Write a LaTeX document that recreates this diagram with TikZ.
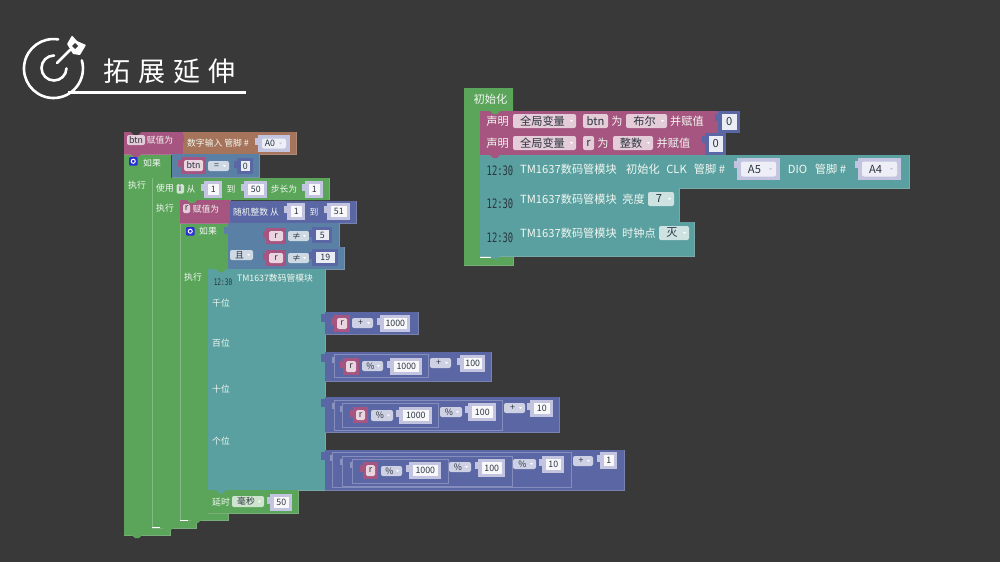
\documentclass[tikz,border=0pt]{standalone}
\usepackage{fontspec}
\setmainfont{Noto Sans CJK SC}
\newfontfamily\titlefont[LetterSpace=30]{Noto Sans CJK SC}
\newfontfamily\clockfont{DejaVu Sans Mono}
\definecolor{cbg}{HTML}{393939}
\definecolor{cgreen}{HTML}{5BA55B}
\definecolor{cpink}{HTML}{A5557F}
\definecolor{cteal}{HTML}{5BA0A0}
\definecolor{csteel}{HTML}{5B80A5}
\definecolor{cindigo}{HTML}{5B67A5}
\definecolor{corange}{HTML}{A5745B}
\definecolor{clil}{HTML}{C3C5E0}
\definecolor{cdark}{HTML}{2A3540}
\newcounter{nid}
\def\fs{\fontsize{8.8}{9}\selectfont}
\newcommand{\blk}[5]{\fill[#1] (#2,#3) rectangle (#4,#5);
  \draw[#1!70!lightgray,line width=.8pt] (#4,#3)--(#4,#5)--(#2,#5);}
\newcommand{\lbl}[3]{\stepcounter{nid}\node[txt,text=white!92!cgreen] (n\arabic{nid}) at (#1,#2) {\fs #3};}
\newcommand{\dlbl}[3]{\stepcounter{nid}\node[txt,text=cdark] (n\arabic{nid}) at (#1,#2) {\fs #3};}
\newcommand{\clock}[3]{\stepcounter{nid}\node[txt,text=cdark] (n\arabic{nid}) at (#1,#2) {\scalebox{.68}[1]{\fontsize{#3}{#3}\selectfont\clockfont 12:30}};}
% field: colour x1 y1 x2 y2 text (drop-down with arrow)
\newcommand{\fld}[6]{\fill[#1!30!white,rounded corners=2pt] (#2,#3) rectangle (#4,#5);
  \fill[white] ({#4-6},{(#3+#5)/2-1}) -- ({#4-3},{(#3+#5)/2-1}) -- ({#4-4.5},{(#3+#5)/2+1}) -- cycle;
  \dlbl{{(#2+#4)/2-2}}{{(#3+#5)/2}}{#6}}
% value block with left tab
\newcommand{\val}[6]{\fill[#1] ({#2-3},{#3+3}) rectangle (#2,{#3+10});
  \fill[#1] (#2,#3) rectangle (#4,#5);
  \fill[#1!12!white] ({#2+3.5},{#3+3}) rectangle ({#4-3},{#5-3});
  \dlbl{{(#2+#4)/2+.3}}{{(#3+#5)/2}}{#6}}
% pin selector with left tab and drop-down arrow
\newcommand{\pin}[5]{\fill[clil] ({#1-3},{#2+3}) rectangle (#1,{#2+10});
  \fill[clil] (#1,#2) rectangle (#3,#4);
  \fill[clil!30!white,rounded corners=2pt] ({#1+4},{#2+3.5}) rectangle ({#3-4},{#4-3.5});
  \fill[clil] ({#3-11},{(#2+#4)/2-1}) -- ({#3-8},{(#2+#4)/2-1}) -- ({#3-9.5},{(#2+#4)/2+1}) -- cycle;
  \dlbl{{(#1+#3)/2-4}}{{(#2+#4)/2}}{#5}}
\newcommand{\get}[6]{\fill[#1] ({#2-3},{#3+3}) rectangle (#2,{#3+10});
  \fill[#1] (#2,#3) rectangle (#4,#5);
  \fill[#1!25!white,rounded corners=1.5pt] ({#2+3},{#3+3}) rectangle ({#4-3},{#5-3});
  \dlbl{{(#2+#4)/2}}{{(#3+#5)/2}}{#6}}
\newcommand{\frm}[4]{\draw[cindigo!75!white,line width=.7pt] (#1,#2) rectangle (#3,#4);
  \fill[cindigo!70!white] ({#1-2},{#2+3}) rectangle (#1,{#2+9});}
\newcommand{\notch}[3]{\fill[#1] (#2,#3) -- ({#2+3},{#3+3}) -- ({#2+7},{#3+3}) -- ({#2+10},#3) -- cycle;}
\newcommand{\gear}[2]{\fill[blue!55!cindigo,rounded corners=1pt] (#1,#2) rectangle ({#1+8.5},{#2+8.5});
  \draw[white,line width=1pt] ({#1+4.25},{#2+4.25}) circle (2pt);}
\tikzset{txt/.style={inner sep=0pt,outer sep=0pt,anchor=center}}
\begin{document}
\begin{tikzpicture}[x=1pt,y=-1pt]
\useasboundingbox (0,0) rectangle (1000,562);
\fill[cbg] (0,0) rectangle (1000,562);
% ---- header
\draw[white,line width=2.6pt,line cap=round] (58.1,39.4) arc[start angle=-81,end angle=-376,radius=29.5];
\draw[white,line width=2.6pt,line cap=round] (54,55.5) arc[start angle=-90,end angle=-358,radius=12.5];
\draw[white,line width=2.6pt,line cap=round] (57,63) -- (70,50);
\fill[white,rounded corners=.5pt] (67,44) -- (72,35.5) -- (77,41) -- (86,45) -- (80,55) -- (73,54) -- cycle;
\fill[cbg] (72,46) -- (75,43) -- (78,46) -- (75,49) -- cycle;
\draw[white,line width=2.6pt] (68,92.5) -- (246,92.5);
\node[txt,anchor=west,text=white] (title) at (103,71) {\fontsize{27}{27}\selectfont\titlefont 拓展延伸};
% ---- left stack: C-shaped green blocks
\fill[cgreen] (124,154) -- (171,154) -- (171,178) -- (152,178) -- (152,527) -- (170,527) -- (170,535) -- (124,535) -- cycle;
\draw[cgreen!70!lightgray,line width=.8pt] (170,527) -- (170,535) -- (124,535);
\fill[cgreen] (152,178) -- (329,178) -- (329,200) -- (180,200) -- (180,520) -- (196,520) -- (196,528) -- (152,528) -- cycle;
\draw[cgreen!70!lightgray,line width=.8pt] (329,178) -- (329,200);
\draw[cgreen!70!lightgray,line width=.8pt] (196,520) -- (196,528) -- (152,528);
\fill[cgreen] (180,223) -- (228,223) -- (228,513) -- (228,520) -- (180,520) -- cycle;
\draw[cgreen!70!lightgray,line width=.8pt] (228,513) -- (228,520) -- (180,520);
\draw[white!25!cgreen,line width=.7pt] (152,178) -- (152,527);
\draw[white!25!cgreen,line width=.7pt] (180,223) -- (180,520);
\draw[white,line width=1pt] (152,527) -- (160,527);
\draw[white,line width=1pt] (180,520) -- (188,520);
\draw[white,line width=1pt] (208,513) -- (218,513);
\notch{cgreen}{132}{535}
\notch{cgreen}{163}{528}
\notch{cgreen}{191}{520}
\notch{cgreen}{216}{513}
% first row
\blk{cpink}{124}{132}{183}{154}
\blk{corange}{183}{132}{296}{154}
\notch{cbg}{131}{132}
\fill[cpink] (180,135) rectangle (184,142);
\fill[cpink!30!white,rounded corners=2pt] (127,135) rectangle (145,145);
\dlbl{136}{140}{btn}
\lbl{160}{140.5}{赋值为}
\lbl{218}{143}{数字输入 管脚 \#}
\pin{258}{135}{290}{152}{A0}
\notch{cpink}{131}{154}
% 如果 row
\gear{129}{157}
\lbl{152}{163}{如果}
\blk{csteel}{172}{154}{259}{177}
\get{cpink}{181}{157}{206}{174}{btn}
\fld{csteel}{208}{161}{229}{171}{=}
\val{cindigo}{237}{158}{253}{174}{0}
\lbl{137}{185}{执行}
% 使用 row
\lbl{165}{188}{使用}
\fill[cgreen!30!white,rounded corners=1.5pt] (176.5,184) rectangle (184,193.5);
\dlbl{180}{188.5}{i}
\lbl{191}{189}{从}
\val{clil}{204}{181}{222}{198}{1}
\lbl{231}{189}{到}
\val{clil}{244}{181}{267}{198}{50}
\lbl{284}{189}{步长为}
\val{clil}{305}{181}{323}{198}{1}
\notch{cgreen}{157}{178}
\lbl{165}{208}{执行}
% r = random
\blk{cpink}{180}{200}{230}{223}
\blk{cindigo}{230}{201}{356}{223}
\fill[cpink!30!white,rounded corners=1.5pt] (183,204) rectangle (190,213);
\dlbl{186.5}{208.5}{r}
\lbl{206}{209}{赋值为}
\lbl{256}{212}{随机整数 从}
\val{clil}{287}{203}{305}{220}{1}
\lbl{314}{212}{到}
\val{clil}{327}{203}{350}{220}{51}
\notch{cgreen}{187}{200}
% 如果 and
\gear{186}{227}
\lbl{208}{231}{如果}
\blk{csteel}{228}{223}{262}{269}
\blk{csteel}{262}{223}{339}{247}
\blk{csteel}{262}{247}{344}{269}
\fill[csteel] (224,227) rectangle (229,234);
\fld{csteel}{230}{250}{253}{260}{且}
\get{cpink}{266}{228}{286}{244}{r}
\fld{csteel}{288}{231}{309}{241}{≠}
\val{cindigo}{312}{227}{332}{243}{5}
\get{cpink}{266}{250}{286}{266}{r}
\fld{csteel}{288}{253}{309}{263}{≠}
\val{cindigo}{312}{249}{338}{266}{19}
\lbl{193}{277}{执行}
% TM block
\blk{cteal}{208}{269}{325}{490}
\notch{cgreen}{216}{269}
\clock{223}{282}{9}
\lbl{275}{278}{TM1637数码管模块}
\lbl{221}{303}{千位}
\lbl{221}{343}{百位}
\lbl{221}{389}{十位}
\lbl{221}{441}{个位}
\blk{cgreen}{208}{490}{298}{513}
\notch{cteal}{216}{490}
\lbl{221}{502}{延时}
\fld{cgreen}{232}{496}{264}{507}{毫秒}
\val{clil}{270}{494}{292}{511}{50}
% value 1
\fill[cindigo] (321,314) rectangle (326,322);
\blk{cindigo}{325}{312}{418}{334}
\get{cpink}{334}{315}{350}{332}{r}
\fld{cindigo}{352}{318}{373}{328}{+}
\val{clil}{380}{315}{410}{332}{1000}
% value 2
\fill[cindigo] (321,354) rectangle (326,362);
\blk{cindigo}{325}{352}{491}{381}
\frm{334}{354}{428}{377}
\get{cpink}{343}{358}{359}{375}{r}
\fld{cindigo}{362}{361}{383}{371}{\%}
\val{clil}{390}{358}{422}{375}{1000}
\fld{cindigo}{430}{358}{451}{368}{+}
\val{clil}{460}{355}{485}{372}{100}
% value 3
\fill[cindigo] (321,399) rectangle (326,407);
\blk{cindigo}{325}{397}{559}{432}
\frm{334}{400}{502}{430}
\frm{342}{403}{438}{427}
\get{cpink}{353}{407}{368}{423}{r}
\fld{cindigo}{371}{410}{393}{421}{\%}
\val{clil}{399}{407}{432}{424}{1000}
\fld{cindigo}{440}{407}{462}{417}{\%}
\val{clil}{468}{403}{496}{421}{100}
\fld{cindigo}{504}{403}{525}{413}{+}
\val{clil}{530}{400}{553}{417}{10}
% value 4
\fill[cindigo] (321,452) rectangle (326,460);
\blk{cindigo}{325}{450}{624}{490}
\frm{332}{452}{571}{487}
\frm{342}{456}{512}{486}
\frm{352}{459}{448}{483}
\get{cpink}{363}{462}{378}{479}{r}
\fld{cindigo}{381}{466}{402}{476}{\%}
\val{clil}{409}{462}{441}{479}{1000}
\fld{cindigo}{449}{462}{471}{472}{\%}
\val{clil}{478}{459}{505}{477}{100}
\fld{cindigo}{513}{459}{536}{469}{\%}
\val{clil}{542}{456}{564}{473}{10}
\fld{cindigo}{573}{456}{593}{466}{+}
\val{clil}{600}{452}{617}{469}{1}
% ---- right stack
\def\fs{\fontsize{11.2}{12}\selectfont}
\fill[cgreen] (464,88) -- (513,88) -- (513,111) -- (480,111) -- (480,257) -- (513,257) -- (513,265) -- (464,265) -- cycle;
\draw[cgreen!70!lightgray,line width=.8pt] (513,257) -- (513,265) -- (464,265);
\draw[white,line width=1pt] (480,257) -- (491,257);
\lbl{490.5}{99.5}{初始化}
% declare rows
\blk{cpink}{480}{111}{718}{133}
\blk{cpink}{480}{133}{705}{155}
\notch{cgreen}{490}{111}
\notch{cpink}{490}{133}
\lbl{497.5}{121.5}{声明}
\fld{cpink}{513}{114}{576}{128}{全局变量}
\fill[cpink!30!white,rounded corners=2pt] (583,114) rectangle (608,128);
\dlbl{595.5}{121}{btn}
\lbl{617}{121.5}{为}
\fld{cpink}{626}{114}{667}{128}{布尔}
\lbl{687}{121.5}{并赋值}
\val{cindigo}{718}{111}{740}{133}{0}
\lbl{497.5}{143.5}{声明}
\fld{cpink}{513}{136}{576}{150}{全局变量}
\fill[cpink!30!white,rounded corners=2pt] (583,136) rectangle (594,150);
\dlbl{588.5}{143}{r}
\lbl{603}{143.5}{为}
\fld{cpink}{613}{136}{653}{150}{整数}
\lbl{673.5}{143.5}{并赋值}
\val{cindigo}{705}{133}{726}{155}{0}
% TM rows
\blk{cteal}{480}{155}{909}{188}
\notch{cpink}{490}{155}
\clock{500}{171}{13}
\lbl{568.5}{169.5}{TM1637数码管模块}
\lbl{643}{169.5}{初始化}
\lbl{676.5}{169.5}{CLK}
\lbl{709.5}{169.5}{管脚 \#}
\pin{737}{158}{780}{180}{A5}
\lbl{797.5}{169.5}{DIO}
\lbl{830.5}{169.5}{管脚 \#}
\pin{858}{158}{901}{180}{A4}
\blk{cteal}{480}{188}{679}{222}
\notch{cteal}{490}{188}
\clock{500}{204}{13}
\lbl{568.5}{199}{TM1637数码管模块}
\lbl{633.5}{199}{亮度}
\fld{cteal}{648}{192}{674}{206}{7}
\blk{cteal}{480}{222}{694}{256}
\notch{cteal}{490}{222}
\clock{500}{238}{13}
\lbl{568.5}{233}{TM1637数码管模块}
\lbl{639}{233}{时钟点}
\fld{cteal}{659}{226}{689}{240}{灭}
\notch{cteal}{490}{256}
\end{tikzpicture}
\end{document}
